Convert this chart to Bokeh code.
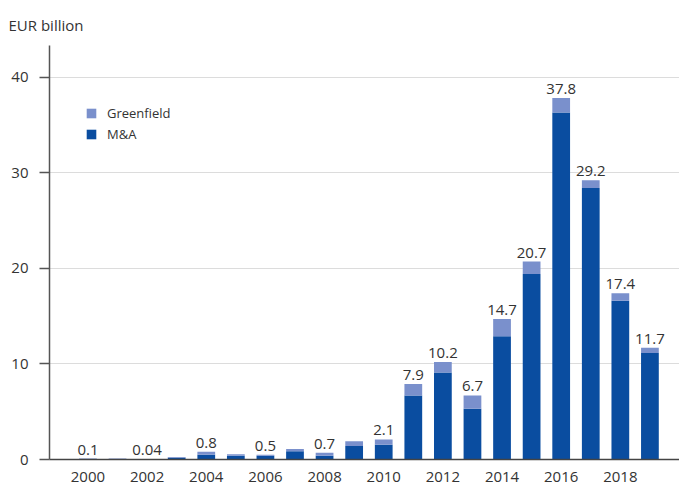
from bokeh.plotting import figure
from bokeh.models import ColumnDataSource, LabelSet, Legend, LegendItem, FixedTicker, Range1d
from bokeh.core.properties import value
from bokeh.embed import file_html
from bokeh.resources import INLINE

years = [2000, 2001, 2002, 2003, 2004, 2005, 2006, 2007, 2008, 2009,
         2010, 2011, 2012, 2013, 2014, 2015, 2016, 2017, 2018, 2019]
mna = [0.05, 0.06, 0.02, 0.17, 0.5, 0.4, 0.4, 0.85, 0.4, 1.4,
       1.55, 6.7, 9.1, 5.3, 12.9, 19.4, 36.3, 28.4, 16.6, 11.15]
greenfield = [0.05, 0.05, 0.02, 0.1, 0.3, 0.15, 0.1, 0.25, 0.3, 0.5,
              0.55, 1.2, 1.1, 1.4, 1.8, 1.3, 1.5, 0.8, 0.8, 0.55]
label_years = [2000, 2002, 2004, 2006, 2008, 2010, 2011, 2012, 2013,
               2014, 2015, 2016, 2017, 2018, 2019]
label_texts = ["0.1", "0.04", "0.8", "0.5", "0.7", "2.1", "7.9", "10.2", "6.7",
               "14.7", "20.7", "37.8", "29.2", "17.4", "11.7"]
x_ticks = [2000, 2002, 2004, 2006, 2008, 2010, 2012, 2014, 2016, 2018]
y_ticks = [0, 10, 20, 30, 40]
unit_text = "EUR billion"

FONT = "Open Sans"
DARK = "#0a4da0"
LIGHT = "#7a90cc"
TXT = "#333333"

src = ColumnDataSource(dict(year=years, mna=mna, greenfield=greenfield))
totals = {y: m + g for y, m, g in zip(years, mna, greenfield)}
lab_src = ColumnDataSource(dict(x=label_years, y=[totals[y] for y in label_years], t=label_texts))

p = figure(width=679, height=485, output_backend="svg", toolbar_location=None,
           x_range=Range1d(1998.7, 2020.0), y_range=Range1d(0, 43.3),
           min_border_left=49, min_border_right=0, min_border_top=45, min_border_bottom=26)
p.outline_line_color = None
p.background_fill_color = "white"

r = p.vbar_stack(["mna", "greenfield"], x="year", width=0.6, source=src,
                 color=[DARK, LIGHT], line_width=0)

labels = LabelSet(x="x", y="y", text="t", source=lab_src, y_offset=4,
                  text_align="center", text_baseline="bottom",
                  text_font=value(FONT), text_font_size=value("15px"), text_color=TXT)
p.add_layout(labels)

legend = Legend(items=[LegendItem(label="Greenfield", renderers=[r[1]]),
                       LegendItem(label="M&A", renderers=[r[0]])],
                location=(36, 316), padding=0, margin=0, spacing=3,
                glyph_width=12, glyph_height=12, label_standoff=10,
                label_text_font=FONT, label_text_font_size="13px", label_text_color=TXT,
                label_height=16, background_fill_alpha=0, border_line_color=None)
p.add_layout(legend)

p.title.text = unit_text
p.title.align = "left"
p.title.offset = -41
p.title.standoff = 21
p.title.text_font = FONT
p.title.text_font_size = "15px"
p.title.text_font_style = "normal"
p.title.text_color = TXT

p.xgrid.grid_line_color = None
p.ygrid.grid_line_color = "#dcdcdc"
p.ygrid.ticker = FixedTicker(ticks=y_ticks)

p.xaxis.ticker = FixedTicker(ticks=x_ticks)
p.xaxis.major_tick_out = 0
p.xaxis.major_tick_in = 0
p.xaxis.minor_tick_line_color = None
p.xaxis.axis_line_color = "#444444"
p.xaxis.axis_line_width = 1.5
p.xaxis.major_label_standoff = 12
p.xaxis.major_label_text_font = FONT
p.xaxis.major_label_text_font_size = "15px"
p.xaxis.major_label_text_color = TXT

p.yaxis.ticker = FixedTicker(ticks=y_ticks)
p.yaxis.major_tick_out = 10
p.yaxis.major_tick_in = 0
p.yaxis.minor_tick_line_color = None
p.yaxis.axis_line_color = "#555555"
p.yaxis.axis_line_width = 1.5
p.yaxis.major_tick_line_color = "#555555"
p.yaxis.major_tick_line_width = 1.5
p.yaxis.major_label_standoff = 11
p.yaxis.major_label_text_font = FONT
p.yaxis.major_label_text_font_size = "15px"
p.yaxis.major_label_text_color = TXT

open("out.html", "w").write(file_html(p, INLINE))
